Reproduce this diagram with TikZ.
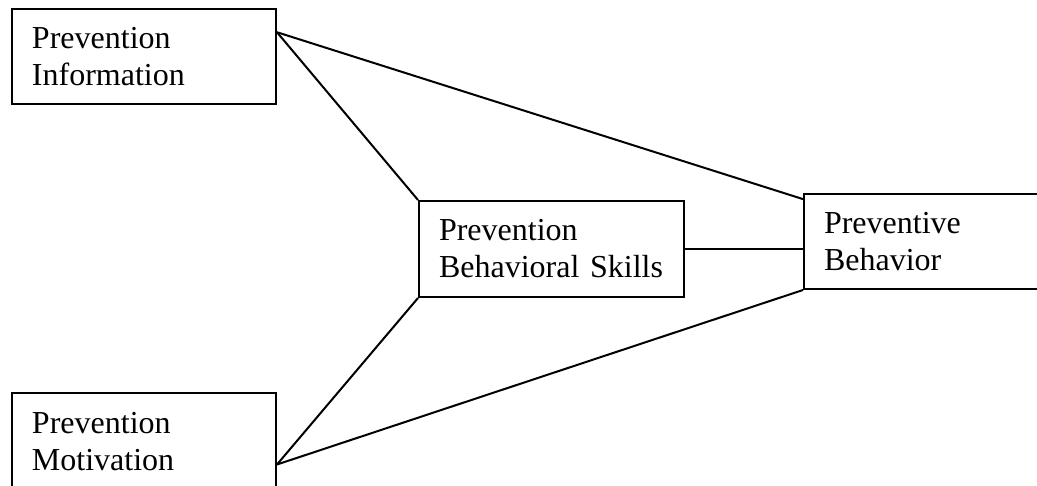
\documentclass[tikz,border=0pt]{standalone}
\usepackage{fontspec}
\setmainfont{Liberation Serif}
\usetikzlibrary{calc}
\begin{document}
\begin{tikzpicture}[x=0.5pt,y=-0.5pt,
  box/.style={draw, line width=1pt, rectangle, anchor=north west,
    align=left, inner xsep=10pt, inner ysep=0pt,
    font=\fontsize{16pt}{18.5pt}\selectfont},
  link/.style={line width=1pt}]
\useasboundingbox (0,0) rectangle (1037,486);

% boxes of the model
\node[box, minimum width=132pt, minimum height=47.5pt, text width=112pt] (info) at (11,8)
  {Prevention\\Information};
\node[box, minimum width=132pt, minimum height=49pt, text width=112pt] (motiv) at (11,392)
  {Prevention\\Motivation};
\node[box, minimum width=132.5pt, minimum height=48pt, text width=112.5pt] (skills) at (418,200)
  {Prevention\\Behavioral Skills};
\node[box, minimum width=122.5pt, minimum height=47.5pt, text width=102.5pt] (behav) at (803,193)
  {Preventive\\Behavior};

% attachment points on the box sides
\coordinate (infoOut) at ($(info.north east)!0.25!(info.south east)$);
\coordinate (motivOut) at ($(motiv.north east)!0.725!(motiv.south east)$);
\coordinate (behavIn) at ($(behav.north west)!0.063!(behav.south west)$);
\coordinate (behavMid) at (skills.east -| behav.west);

% connectors
\draw[link] (infoOut) -- (behavIn);
\draw[link] (infoOut) -- (skills.north west);
\draw[link] (motivOut) -- (skills.south west);
\draw[link] (motivOut) -- (behav.south west);
\draw[link] (skills.east) -- (behavMid);
\end{tikzpicture}
\end{document}
